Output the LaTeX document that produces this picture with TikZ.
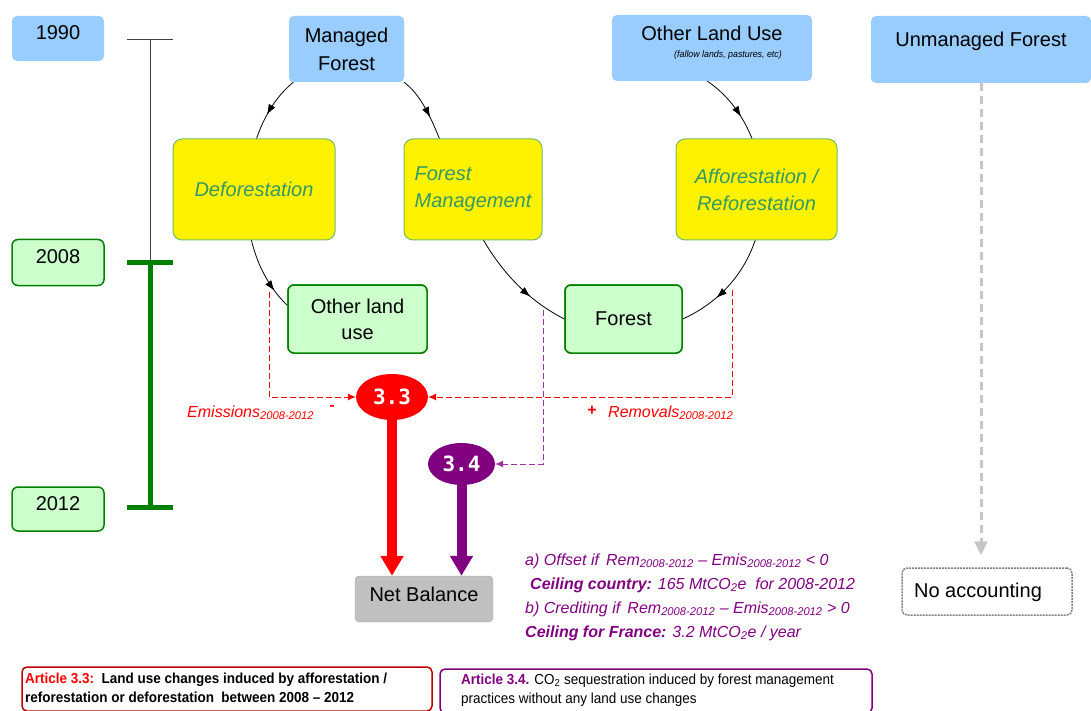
\documentclass[tikz,border=0pt]{standalone}
\usepackage{fontspec}
\setmainfont{Liberation Sans}
\newfontfamily\monofnt{DejaVu Sans Mono}
\newfontfamily\narrowfnt{Liberation Sans}[FakeStretch=0.93]
\usetikzlibrary{shapes.geometric,arrows.meta,decorations.markings}
\definecolor{lblue}{HTML}{99CCFF}
\definecolor{lgreen}{HTML}{CCFFCC}
\definecolor{dgreen}{HTML}{008000}
\definecolor{ybord}{HTML}{77BB66}
\definecolor{tealtxt}{HTML}{339966}
\definecolor{purp}{HTML}{800080}
\definecolor{dred}{HTML}{C00000}
\definecolor{nbgray}{HTML}{C0C0C0}
\begin{document}
\begin{tikzpicture}[x=1pt,y=-1pt,
  bluebox/.style={fill=lblue, rounded corners=5pt, inner sep=0pt},
  greenbox/.style={fill=lgreen, draw=dgreen, line width=1.5pt, rounded corners=6pt, inner sep=0pt, align=center, font=\fontsize{20}{26}\selectfont},
  yellowbox/.style={fill=yellow, draw=ybord, line width=1pt, rounded corners=9pt, inner sep=0pt, align=center, text=tealtxt, font=\fontsize{20}{27}\selectfont\itshape},
  bigtxt/.style={font=\fontsize{20}{28}\selectfont, align=center, inner sep=0pt},
  arcline/.style={black, line width=0.8pt},
  tipmark/.style={postaction={decorate}, decoration={markings,
     mark=at position #1 with {\arrow{Latex[length=10pt,width=7pt]}}}},
  reddash/.style={red, line width=1pt, dash pattern=on 6pt off 3pt, -{Latex[length=8pt,width=7pt]}},
  purpdash/.style={purp!80, line width=1pt, dash pattern=on 6pt off 3pt, -{Latex[length=8pt,width=7pt]}},
  artnode/.style={ellipse, inner sep=0pt, text=white, font=\monofnt\bfseries\fontsize{21}{21}\selectfont},
  purptext/.style={text=purp, anchor=base west, inner sep=0pt, font=\fontsize{16}{19}\selectfont\itshape},
]
\useasboundingbox (0,0) rectangle (1091,711);

% ---- arcs (drawn first, boxes cover them)
\node[bluebox, minimum width=115pt, minimum height=66pt, bigtxt] (mf) at (346.5,49) {Managed\\Forest};
\node[bluebox, minimum width=200pt, minimum height=66pt] (olb) at (712,48) {};
\node[greenbox, minimum width=139pt, minimum height=68pt] (olu) at (357.5,319) {Other land\\use};
\node[greenbox, minimum width=117pt, minimum height=68pt] (fo) at (623.5,319) {Forest};

\draw[arcline, tipmark=0.17, tipmark=0.92] (mf.212) .. controls (240,125) and (225,245) .. (olu.169);
\draw[arcline, tipmark=0.15, tipmark=0.86] (mf.330) .. controls (455,120) and (450,260) .. (fo.west);
\draw[arcline, tipmark=0.17, tipmark=0.86] (olb.262) .. controls (780,130) and (790,270) .. (fo.east);

% redraw nodes on top
\node[bluebox, minimum width=115pt, minimum height=66pt, bigtxt] at (mf) {Managed\\Forest};
\node[greenbox, minimum width=139pt, minimum height=68pt] at (olu) {Other land\\use};
\node[greenbox, minimum width=117pt, minimum height=68pt] at (fo) {Forest};

\node[bigtxt] (olbt) at (712,33) {Other Land Use};
\node[inner sep=0pt, font=\fontsize{9.5}{11}\selectfont\itshape\narrowfnt] (olbs) at (728,55) {(fallow lands, pastures, etc)};

% ---- yellow activity boxes
\node[yellowbox, minimum width=162pt, minimum height=101pt] (def) at (254,189.5) {Deforestation};
\node[yellowbox, align=left, minimum width=138pt, minimum height=101pt] (fm) at (473,189.5) {Forest\\Management};
\node[yellowbox, minimum width=161pt, minimum height=101pt] (aff) at (756.5,189.5) {Afforestation /\\Reforestation};

% ---- unmanaged forest
\node[bluebox, minimum width=220pt, minimum height=67pt] (um) at (981,49.5) {};
\node[bigtxt] (umt) at (981,41) {Unmanaged Forest};
\node[draw=gray, line width=1.5pt, dash pattern=on 2pt off 1pt, fill=white, rounded corners=5pt, minimum width=170pt, minimum height=47pt] (na) at (987,591.5) {};
\node[bigtxt] (nat) at (978,592) {No accounting};
\draw[gray!45, line width=3pt, dash pattern=on 8pt off 5pt, -{Triangle[length=14pt,width=13pt]}, shorten >=12pt] (um.south) -- (um.south |- na.north);

% ---- timeline
\node[bluebox, minimum width=92pt, minimum height=45pt] (y90) at (58,38.5) {};
\node[bigtxt] (y90t) at (58,32.5) {1990};
\node[greenbox, minimum width=92pt, minimum height=46pt] (y08) at (58,262.5) {};
\node[bigtxt] (y08t) at (58,257) {2008};
\node[greenbox, minimum width=92pt, minimum height=44pt] (y12) at (58,509) {};
\node[bigtxt] (y12t) at (58,504) {2012};
\draw[black!75, line width=0.9pt] (127,39) -- (173,39) (150,39) -- (150,262);
\draw[dgreen, line width=5pt] (127,262) -- (173,262) (150,262) -- (150,507) (127,507) -- (173,507);

% ---- articles
\node[draw=nbgray!70!black, dash pattern=on 1pt off 1pt, fill=nbgray, rounded corners=4pt, minimum width=138pt, minimum height=46pt] (nb) at (424,599) {};
\node[bigtxt] (nbt) at (424,594) {Net Balance};
\node[artnode, minimum width=72pt, minimum height=46pt] (a33) at (392,397) {};
\node[artnode, minimum width=67pt, minimum height=42pt] (a34) at (461.5,464) {};
\draw[red, line width=10pt, -{Triangle[length=20pt,width=22pt]}] (a33.center) -- (a33.center |- nb.north);
\draw[purp, line width=10pt, -{Triangle[length=20pt,width=22pt]}] (a34.center) -- (a34.center |- nb.north);
\node[artnode, fill=red, minimum width=72pt, minimum height=46pt] at (a33) {3.3};
\node[artnode, fill=purp, minimum width=67pt, minimum height=42pt] at (a34) {3.4};

\coordinate (eL) at (269,292);
\coordinate (eR) at (732,290);
\coordinate (eP) at (543,310);
\draw[reddash] (eL) |- (a33.west);
\draw[reddash] (eR) |- (a33.east);
\draw[purpdash] (eP) |- (a34.east);

\node[anchor=base west, inner sep=0pt, text=red, font=\fontsize{16}{19}\selectfont\itshape] (em) at (187,417) {Emissions\textsubscript{2008-2012}};
\node[inner sep=0pt, text=red, font=\fontsize{16}{19}\selectfont\bfseries] (mi) at (332,408) {-};
\node[inner sep=0pt, text=red, font=\fontsize{16}{19}\selectfont\bfseries] (pl) at (592,411) {+};
\node[anchor=base west, inner sep=0pt, text=red, font=\fontsize{16}{19}\selectfont\itshape] (rem) at (608,417) {Removals\textsubscript{2008-2012}};

% ---- purple notes
\node[purptext] (la) at (525,565) {a) Offset if\, Rem\textsubscript{2008-2012} – Emis\textsubscript{2008-2012} < 0};
\node[purptext] (lb) at (530,589) {\textbf{Ceiling country:} 165 MtCO\textsubscript{2}e\ \ for 2008-2012};
\node[purptext] (lc) at (525,613) {b) Crediting if\, Rem\textsubscript{2008-2012} – Emis\textsubscript{2008-2012} > 0};
\node[purptext] (ld) at (525,637) {\textbf{Ceiling for France:} 3.2 MtCO\textsubscript{2}e / year};

% ---- article boxes
\node[draw=dred, line width=1.5pt, rounded corners=5pt, minimum width=410pt, minimum height=44pt, inner sep=0pt] (b33) at (227,689) {};
\node[anchor=north west, inner sep=0pt, align=left, font=\narrowfnt\bfseries\fontsize{14.5}{19}\selectfont] (b33t) at (25,673) {\textcolor{red}{Article 3.3:}\ \ Land use changes induced by afforestation /\\reforestation or deforestation\ \ between 2008 – 2012};
\node[draw=purp, line width=1.5pt, rounded corners=5pt, minimum width=432pt, minimum height=44pt, inner sep=0pt] (b34) at (656,691) {};
\node[anchor=north west, inner sep=0pt, align=left, font=\narrowfnt\fontsize{14.5}{19}\selectfont] (b34t) at (461,674) {\textcolor{purp}{\textbf{Article 3.4.}} CO\textsubscript{2} sequestration induced by forest management\\practices without any land use changes};
\end{tikzpicture}
\end{document}
